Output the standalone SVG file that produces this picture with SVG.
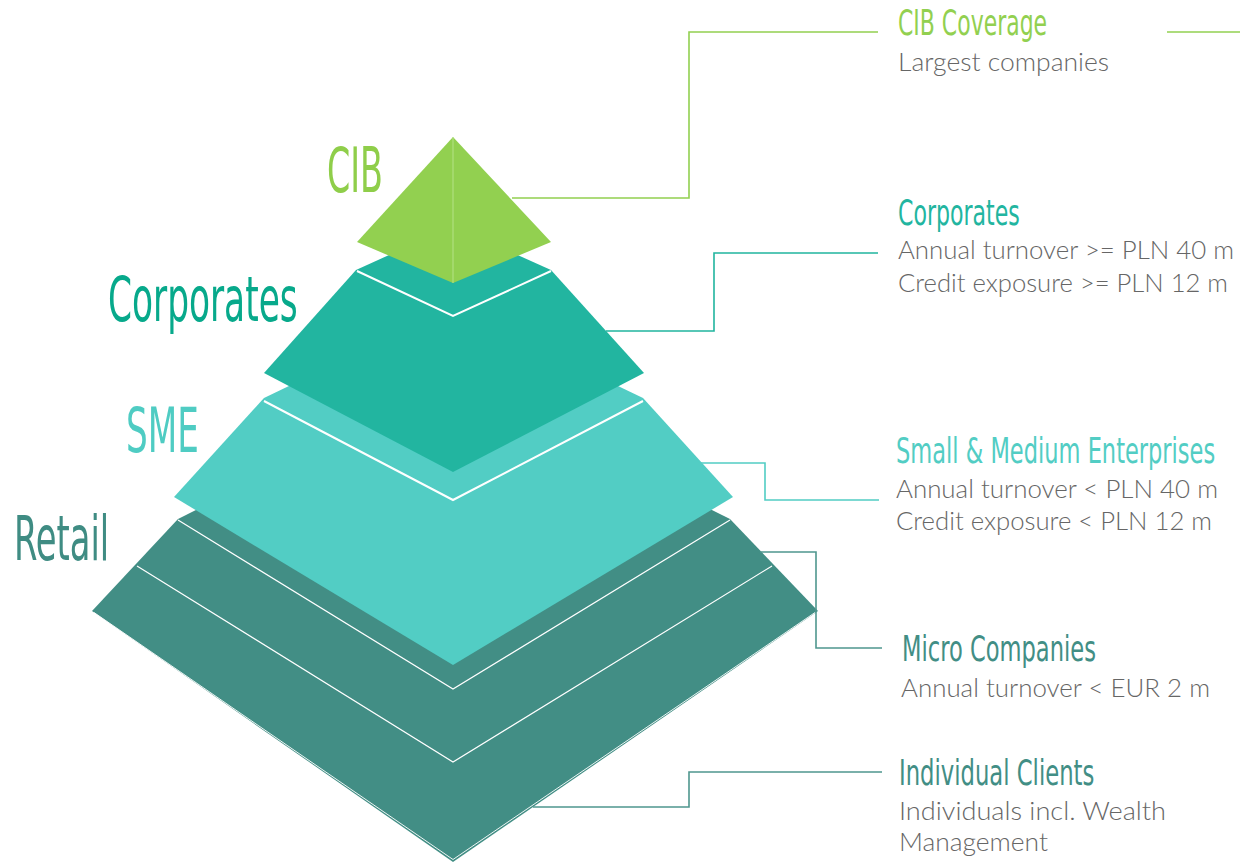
<svg xmlns="http://www.w3.org/2000/svg" width="1240" height="862" viewBox="0 0 1240 862">
<style>
.hd{font-family:"Liberation Sans Narrow","DejaVu Sans Condensed","Liberation Sans",sans-serif;font-weight:normal}
.big{font-size:63px}
.mid{font-size:35px}
.body{font-family:Lato,"Open Sans","Noto Sans",sans-serif;font-weight:300;font-size:25px;fill:#666666}
.sep{fill:none;stroke:#ffffff;stroke-width:2}
.thin{fill:none;stroke:#ffffff;stroke-width:1.2}
.con{fill:none;stroke-width:1.6}
.green{fill:#92d050}
.teal{fill:#22b5a0}
.aqua{fill:#52cdc4}
.dark{fill:#428e85}
</style>
<rect width="1240" height="862" fill="#ffffff"/>

<g id="layer-retail">
<polygon class="dark" points="453,381 178,519 92,611 453,862 818,611 730,519"/>
<polyline class="thin" points="178,520 453,689 730,520"/>
<polyline class="thin" points="137,566 453,762 772,566"/>
<polyline fill="none" stroke="#ffffff" stroke-width="0.9" points="94,612.5 453,859.5 815,612.5"/>
</g>

<g id="layer-sme">
<polygon class="aqua" points="453,307 264,398 174,497 453,665 733,497 643,398"/>
<polyline class="sep" points="264,401 453,500 643,401"/>
</g>

<g id="layer-corporates">
<polygon class="teal" points="453,226 356,270 264,373 453,472 644,373 551,270"/>
<polyline class="sep" points="357,271 453,316 551,271"/>
</g>

<g id="layer-cib">
<polygon class="green" points="453,137 357,242 453,283 551,242"/>
<line x1="453" y1="137" x2="453" y2="283" stroke="#b4e286" stroke-width="1"/>
</g>

<g id="label-cib"><text class="hd big" transform="translate(327,192) scale(0.7,1)" fill="#8fce4a" textLength="80" lengthAdjust="spacingAndGlyphs">CIB</text></g>
<g id="label-corporates"><text class="hd big" transform="translate(108,321) scale(0.7,1)" fill="#07a98b" textLength="271" lengthAdjust="spacingAndGlyphs">Corporates</text></g>
<g id="label-sme"><text class="hd big" transform="translate(126,452) scale(0.7,1)" fill="#4fccc3" textLength="104" lengthAdjust="spacingAndGlyphs">SME</text></g>
<g id="label-retail"><text class="hd big" transform="translate(14,560) scale(0.7,1)" fill="#3f8c83" textLength="136" lengthAdjust="spacingAndGlyphs">Retail</text></g>

<g id="connectors">
<polyline class="con" stroke="#92d050" points="512,198 689,198 689,32 878,32"/>
<line class="con" stroke="#92d050" x1="1167" y1="32" x2="1240" y2="32"/>
<polyline class="con" stroke="#21b59f" points="606,331 714,331 714,253 878,253"/>
<polyline class="con" stroke="#52cdc4" points="701,463 765,463 765,500 879,500"/>
<polyline class="con" stroke="#4f978e" points="760,552 816,552 816,648 882,648"/>
<polyline class="con" stroke="#4f978e" points="533,807 689,807 689,772 882,772"/>
</g>

<g id="desc-cib">
<text class="hd mid" transform="translate(898,35) scale(0.7,1)" fill="#92d050" textLength="213" lengthAdjust="spacingAndGlyphs">CIB Coverage</text>
<text class="body" x="898" y="71" textLength="211" lengthAdjust="spacingAndGlyphs">Largest companies</text>
</g>
<g id="desc-corporates">
<text class="hd mid" transform="translate(898,225) scale(0.7,1)" fill="#22b5a0" textLength="174" lengthAdjust="spacingAndGlyphs">Corporates</text>
<text class="body" x="898" y="259" textLength="336" lengthAdjust="spacingAndGlyphs">Annual turnover &gt;= PLN 40 m</text>
<text class="body" x="898" y="292" textLength="330" lengthAdjust="spacingAndGlyphs">Credit exposure &gt;= PLN 12 m</text>
</g>
<g id="desc-sme">
<text class="hd mid" transform="translate(896,463) scale(0.7,1)" fill="#52cdc4" textLength="456" lengthAdjust="spacingAndGlyphs">Small &amp; Medium Enterprises</text>
<text class="body" x="896" y="498" textLength="322" lengthAdjust="spacingAndGlyphs">Annual turnover &lt; PLN 40 m</text>
<text class="body" x="896" y="530" textLength="316" lengthAdjust="spacingAndGlyphs">Credit exposure &lt; PLN 12 m</text>
</g>
<g id="desc-micro">
<text class="hd mid" transform="translate(902,661) scale(0.7,1)" fill="#428e85" textLength="277" lengthAdjust="spacingAndGlyphs">Micro Companies</text>
<text class="body" x="901" y="697" textLength="309" lengthAdjust="spacingAndGlyphs">Annual turnover &lt; EUR 2 m</text>
</g>
<g id="desc-individual">
<text class="hd mid" transform="translate(899,785) scale(0.7,1)" fill="#428e85" textLength="279" lengthAdjust="spacingAndGlyphs">Individual Clients</text>
<text class="body" x="899" y="820" textLength="267" lengthAdjust="spacingAndGlyphs">Individuals incl. Wealth</text>
<text class="body" x="899" y="851" textLength="149" lengthAdjust="spacingAndGlyphs">Management</text>
</g>
</svg>
